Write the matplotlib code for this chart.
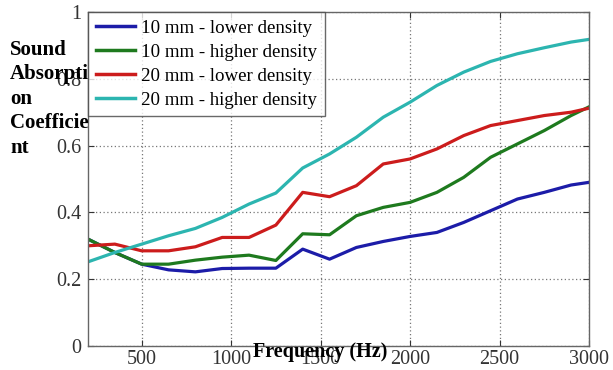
import matplotlib
matplotlib.use("Agg")
import matplotlib.pyplot as plt

freq = [200, 350, 500, 650, 800, 950, 1100, 1250, 1400, 1550, 1700, 1850,
        2000, 2150, 2300, 2450, 2600, 2750, 2900, 3000]
mm10_low = [0.32, 0.28, 0.245, 0.228, 0.222, 0.232, 0.233, 0.233, 0.29, 0.26,
            0.295, 0.313, 0.328, 0.34, 0.37, 0.405, 0.44, 0.46, 0.482, 0.49]
mm10_high = [0.32, 0.28, 0.245, 0.245, 0.257, 0.266, 0.272, 0.256, 0.336, 0.333,
             0.39, 0.415, 0.43, 0.46, 0.505, 0.565, 0.605, 0.645, 0.69, 0.716]
mm20_low = [0.30, 0.305, 0.285, 0.285, 0.297, 0.325, 0.325, 0.362, 0.46, 0.447,
            0.48, 0.545, 0.56, 0.59, 0.63, 0.66, 0.675, 0.69, 0.70, 0.712]
mm20_high = [0.252, 0.28, 0.305, 0.33, 0.352, 0.385, 0.425, 0.458, 0.533, 0.575,
             0.625, 0.685, 0.73, 0.78, 0.82, 0.852, 0.875, 0.893, 0.91, 0.918]
labels = ["10 mm - lower density", "10 mm - higher density",
          "20 mm - lower density", "20 mm - higher density"]
colors = ["#1c1ca8", "#1e7a1e", "#cc1c1c", "#2cb5b0"]
xticks = [500, 1000, 1500, 2000, 2500, 3000]
yticks = [0, 0.2, 0.4, 0.6, 0.8, 1]
ytick_labels = ["0", "0.2", "0.4", "0.6", "0.8", "1"]

plt.rcParams['font.family'] = ['Liberation Serif', 'DejaVu Serif']

fig = plt.figure(figsize=(6.13, 3.70), dpi=100)
ax = fig.add_axes([88/613, 24/370, 501/613, 334/370])

for ys, lab, c in zip([mm10_low, mm10_high, mm20_low, mm20_high], labels, colors):
    ax.plot(freq, ys, color=c, lw=2.3, label=lab, solid_joinstyle='round')

ax.set_xlim(200, 3000)
ax.set_ylim(0, 1)
ax.set_xticks(xticks)
ax.set_yticks(yticks)
ax.set_yticklabels(ytick_labels)
ax.grid(True, linestyle=(0, (1, 2)), color='#777777', lw=0.9)
ax.tick_params(direction='in', top=True, right=True, labelsize=14.5,
               colors='#333333', length=4)
ax.tick_params(axis='x', pad=3)
ax.tick_params(axis='y', pad=5)
for s in ax.spines.values():
    s.set_color('#666666')
    s.set_linewidth(1.0)

leg = ax.legend(loc='upper left', fontsize=13.6, frameon=True, fancybox=False,
                borderaxespad=0, handlelength=2.1, labelspacing=0.36,
                handletextpad=0.3, borderpad=0.4)
leg.get_frame().set_edgecolor('#444444')
leg.get_frame().set_linewidth(1.0)
for h in leg.get_lines():
    h.set_linewidth(2.5)

fig.text(10/613, 1 - 40/370, "Sound\nAbsorpti\non\nCoefficie\nnt",
         ha='left', va='top', fontsize=15, fontweight='bold',
         linespacing=1.3, transform=fig.transFigure)
fig.text(320/613, 1 - 352/370, "Frequency (Hz)", ha='center', va='center',
         fontsize=14.5, fontweight='bold')

fig.savefig("out.png", dpi=100)
